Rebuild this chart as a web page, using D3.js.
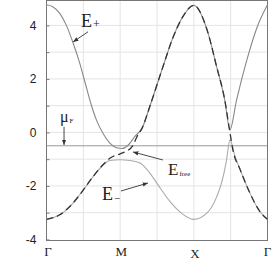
<!DOCTYPE html>
<html>
<head>
<meta charset="utf-8">
<script src="https://cdn.jsdelivr.net/npm/d3@7"></script>
<style>
  body { margin: 0; background: #fff; }
  svg { display: block; }
</style>
</head>
<body>
<div id="chart"></div>
<script>
// Band structure along Γ-M-X-Γ: hybridised bands E+ / E- and the free band (dashed)
const kLabels = ["Γ", "M", "X", "Γ"];
const yTicks = [-4, -2, 0, 2, 4];
const muF = -0.5;

const ePlusK = [0, 0.09, 0.18, 0.27, 0.36, 0.45, 0.53, 0.6, 0.68, 0.77, 0.86, 0.95, 1.03, 1.11, 1.2, 1.3, 1.4, 1.58, 1.72, 1.85, 2.0, 2.18, 2.31, 2.42, 2.49, 2.58, 2.72, 2.86, 3.0];
const ePlusE = [4.77, 4.69, 4.45, 4.0, 3.35, 2.6, 1.8, 1.1, 0.45, -0.05, -0.4, -0.57, -0.6, -0.47, -0.15, 0.17, 0.95, 2.45, 3.57, 4.32, 4.75, 3.83, 2.45, 1.21, 0.1, 1.21, 2.71, 3.94, 4.77];

const eMinusK = [0, 0.18, 0.36, 0.5, 0.63, 0.73, 0.86, 1.0, 1.13, 1.27, 1.4, 1.54, 1.68, 1.81, 2.0, 2.18, 2.31, 2.38, 2.44, 2.49, 2.56, 2.63, 2.76, 2.9, 3.0];
const eMinusE = [-3.25, -3.08, -2.64, -2.15, -1.66, -1.33, -1.05, -1.02, -1.05, -1.14, -1.51, -2.07, -2.6, -2.97, -3.25, -3.01, -2.41, -1.85, -1.1, -0.28, -0.9, -1.4, -2.26, -2.97, -3.25];

const eFreeK = [0, 0.18, 0.36, 0.5, 0.63, 0.77, 0.87, 1.0, 1.1, 1.17, 1.23, 1.3, 1.4, 1.58, 1.72, 1.85, 2.0, 2.18, 2.31, 2.42, 2.49, 2.53, 2.63, 2.76, 2.9, 3.0];
const eFreeE = [-3.25, -3.08, -2.64, -2.15, -1.66, -1.2, -0.95, -0.8, -0.68, -0.5, -0.15, 0.17, 0.95, 2.45, 3.57, 4.32, 4.75, 3.83, 2.45, 1.21, 0.0, -0.65, -1.4, -2.26, -2.97, -3.25];

const width = 273, height = 262;
const margin = { top: 0.5, right: 5.5, bottom: 21.5, left: 46.5 };

const svg = d3.select("#chart").append("svg")
    .attr("width", width)
    .attr("height", height);

const x = d3.scaleLinear().domain([0, 3]).range([margin.left, width - margin.right]);
const y = d3.scaleLinear().domain([-4.04, 4.93]).range([height - margin.bottom, margin.top]);

// grid
svg.append("g")
    .selectAll("line")
    .data(d3.range(0.5, 3, 0.5))
    .join("line")
    .attr("x1", d => x(d)).attr("x2", d => x(d))
    .attr("y1", y.range()[0]).attr("y2", y.range()[1])
    .attr("stroke", "#e4e4e4");

svg.append("g")
    .selectAll("line")
    .data(d3.range(-3, 5, 1))
    .join("line")
    .attr("x1", x.range()[0]).attr("x2", x.range()[1])
    .attr("y1", d => y(d)).attr("y2", d => y(d))
    .attr("stroke", "#e4e4e4");

// left axis: inward ticks at every unit, labels on even ones
const yAxis = d3.axisLeft(y)
    .tickValues(d3.range(-4, 5, 1))
    .tickSize(-3)
    .tickPadding(10)
    .tickFormat(d => yTicks.includes(d) ? d3.format("d")(d).replace("−", "-") : "");

svg.append("g")
    .attr("transform", `translate(${margin.left},0)`)
    .call(yAxis)
    .call(g => g.select(".domain").remove())
    .call(g => g.selectAll(".tick line").attr("stroke", "#777"))
    .call(g => g.selectAll(".tick text")
        .attr("font-family", "Liberation Sans, Arial, sans-serif")
        .attr("font-size", 12)
        .attr("fill", "#222"));

// frame
svg.append("rect")
    .attr("x", x.range()[0]).attr("y", y.range()[1])
    .attr("width", x.range()[1] - x.range()[0])
    .attr("height", y.range()[0] - y.range()[1])
    .attr("fill", "none")
    .attr("stroke", "#777")
    .attr("stroke-width", 1);

// k labels
svg.append("g")
    .selectAll("text")
    .data(kLabels)
    .join("text")
    .attr("x", (d, i) => x(i) + (i === 0 ? 1.5 : i === 3 ? 0 : 1))
    .attr("y", (d, i) => i === 2 ? 257.5 : 256)
    .attr("text-anchor", "middle")
    .attr("font-family", "Liberation Serif, Times New Roman, serif")
    .attr("font-size", 13)
    .attr("fill", "#222")
    .text(d => d);

// Fermi level
svg.append("line")
    .attr("x1", x.range()[0]).attr("x2", x.range()[1])
    .attr("y1", y(muF)).attr("y2", y(muF))
    .attr("stroke", "#999")
    .attr("stroke-width", 1);

const line = d3.line()
    .x(d => x(d[0]))
    .y(d => y(d[1]))
    .curve(d3.curveMonotoneX);

svg.append("path")
    .datum(d3.zip(eMinusK, eMinusE))
    .attr("d", line)
    .attr("fill", "none")
    .attr("stroke", "#aaa")
    .attr("stroke-width", 1.1);

svg.append("path")
    .datum(d3.zip(ePlusK, ePlusE))
    .attr("d", line)
    .attr("fill", "none")
    .attr("stroke", "#888")
    .attr("stroke-width", 1.1);

svg.append("path")
    .datum(d3.zip(eFreeK, eFreeE))
    .attr("d", line)
    .attr("fill", "none")
    .attr("stroke", "#333")
    .attr("stroke-width", 1.3)
    .attr("stroke-dasharray", "7,4");

// annotations (anchors in data units)
const defs = svg.append("defs");
defs.append("marker")
    .attr("id", "head")
    .attr("viewBox", "0 0 10 10")
    .attr("refX", 10).attr("refY", 5)
    .attr("markerWidth", 6).attr("markerHeight", 6)
    .attr("orient", "auto")
    .append("path")
    .attr("d", "M0,1 L10,5 L0,9 z")
    .attr("fill", "#333");

const arrows = [
    { from: [0.563, 3.76], to: [0.36, 3.38] },
    { from: [0.238, 0.21], to: [0.238, -0.47] },
    { from: [1.011, -2.19], to: [1.378, -1.89] },
    { from: [1.58, -1.03], to: [1.174, -0.73] }
];

svg.append("g")
    .selectAll("line")
    .data(arrows)
    .join("line")
    .attr("x1", d => x(d.from[0])).attr("y1", d => y(d.from[1]))
    .attr("x2", d => x(d.to[0])).attr("y2", d => y(d.to[1]))
    .attr("stroke", "#333")
    .attr("stroke-width", 0.9)
    .attr("marker-end", "url(#head)");

const serif = "Liberation Serif, Times New Roman, serif";

function label(u, v, main, sub, size, subSize, subDy) {
    const t = svg.append("text")
        .attr("x", x(u)).attr("y", y(v))
        .attr("font-family", serif)
        .attr("font-size", size)
        .attr("fill", "#222");
    t.append("tspan").text(main);
    t.append("tspan")
        .attr("dx", 1)
        .attr("dy", subDy)
        .attr("font-size", subSize)
        .text(sub);
}

label(0.468, 3.94, "E", "+", 18, 12, 1);
label(0.183, 0.39, "μ", "F", 16, 7, 1);
label(0.753, -2.52, "E", "−", 18, 11, 2);
label(1.65, -1.59, "E", "free", 17, 7, 1);
</script>
</body>
</html>
